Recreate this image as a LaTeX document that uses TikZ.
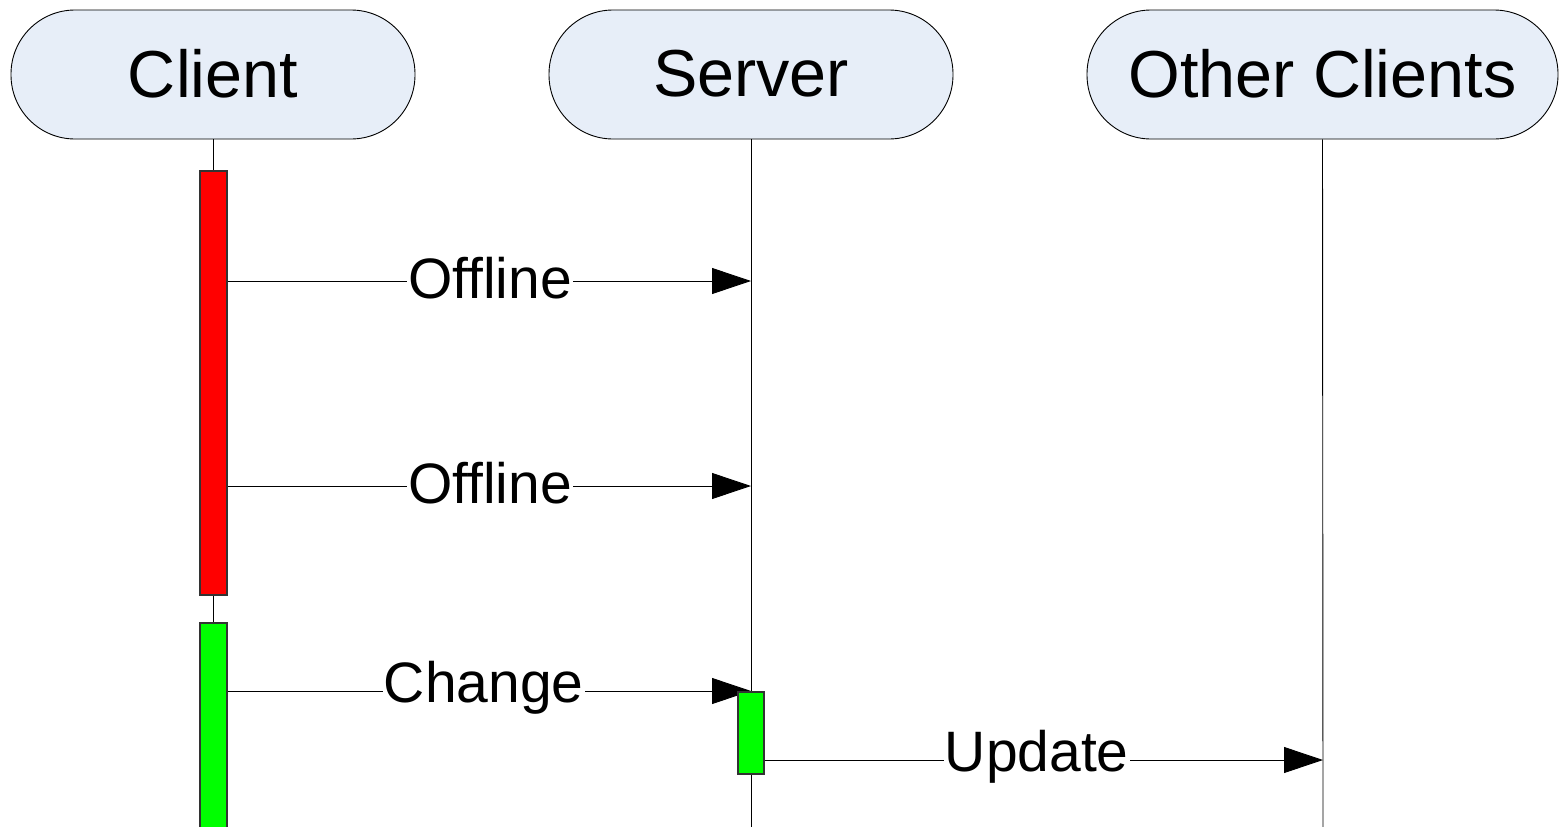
\documentclass[tikz,border=0pt]{standalone}
\usepackage{fontspec}
\setmainfont{Liberation Sans}
\usetikzlibrary{arrows.meta}
\definecolor{headfill}{RGB}{231,238,248}
\definecolor{actred}{RGB}{255,0,0}
\definecolor{actgreen}{RGB}{0,255,0}
\newcommand{\hdtext}[1]{\raisebox{2.5pt}{#1}}
\tikzset{
  head/.style={draw=black, line width=0.9pt, fill=headfill, rounded corners=64pt,
    minimum height=129pt, inner sep=0pt, font=\fontsize{66.5}{70}\selectfont},
  life/.style={line width=0.9pt},
  act/.style={draw=black!80, line width=1.2pt, minimum width=27pt, inner sep=0pt},
  msg/.style={line width=0.9pt, -{Triangle[length=39pt,width=26pt]}},
  lbl/.style={fill=white, inner sep=1pt, yshift=3pt, font=\fontsize{57}{60}\selectfont}
}
\begin{document}
\begin{tikzpicture}[x=1pt,y=-1pt]
\clip (0,0) rectangle (1564,827);
\fill[white] (0,0) rectangle (1564,827);
% headers
\node[head, minimum width=404pt] (client) at (213,74.5) {\hdtext{Client}};
\node[head, minimum width=404pt] (server) at (751,74.5) {\hdtext{Server}};
\node[head, minimum width=471pt] (other) at (1322.5,74.5) {\hdtext{Other Clients}};
% lifeline ends
\coordinate (cend) at (213,830);
\coordinate (send) at (751,830);
\coordinate (oend) at (1323,830);
\draw[life] (client.south) -- (cend);
\draw[life] (server.south) -- (send);
\draw[life] (other.south) -- (oend);
% message anchor coordinates
\coordinate (s1) at (751,281);
\coordinate (s2) at (751,486);
\coordinate (s3) at (751,691);
\coordinate (o4) at (1323,760);
\coordinate (c1) at (227,281);
\coordinate (c2) at (227,486);
\coordinate (c3) at (227,691);
\coordinate (v4) at (764,760);
% messages
\draw[msg] (c1) -- node[lbl, pos=0.502] (m1) {Offline} (s1);
\draw[msg] (c2) -- node[lbl, pos=0.502] (m2) {Offline} (s2);
\draw[msg] (c3) -- node[lbl, pos=0.49] (m3) {Change} (s3);
\draw[msg] (v4) -- node[lbl, pos=0.488] (m4) {Update} (o4);
% activations
\node[act, fill=actred, minimum height=424pt] (a1) at (213.5,383) {};
\node[act, fill=actgreen, minimum height=210pt] (a2) at (213.5,728) {};
\node[act, fill=actgreen, minimum width=26pt, minimum height=82pt] (a3) at (751,733) {};
\end{tikzpicture}
\end{document}
